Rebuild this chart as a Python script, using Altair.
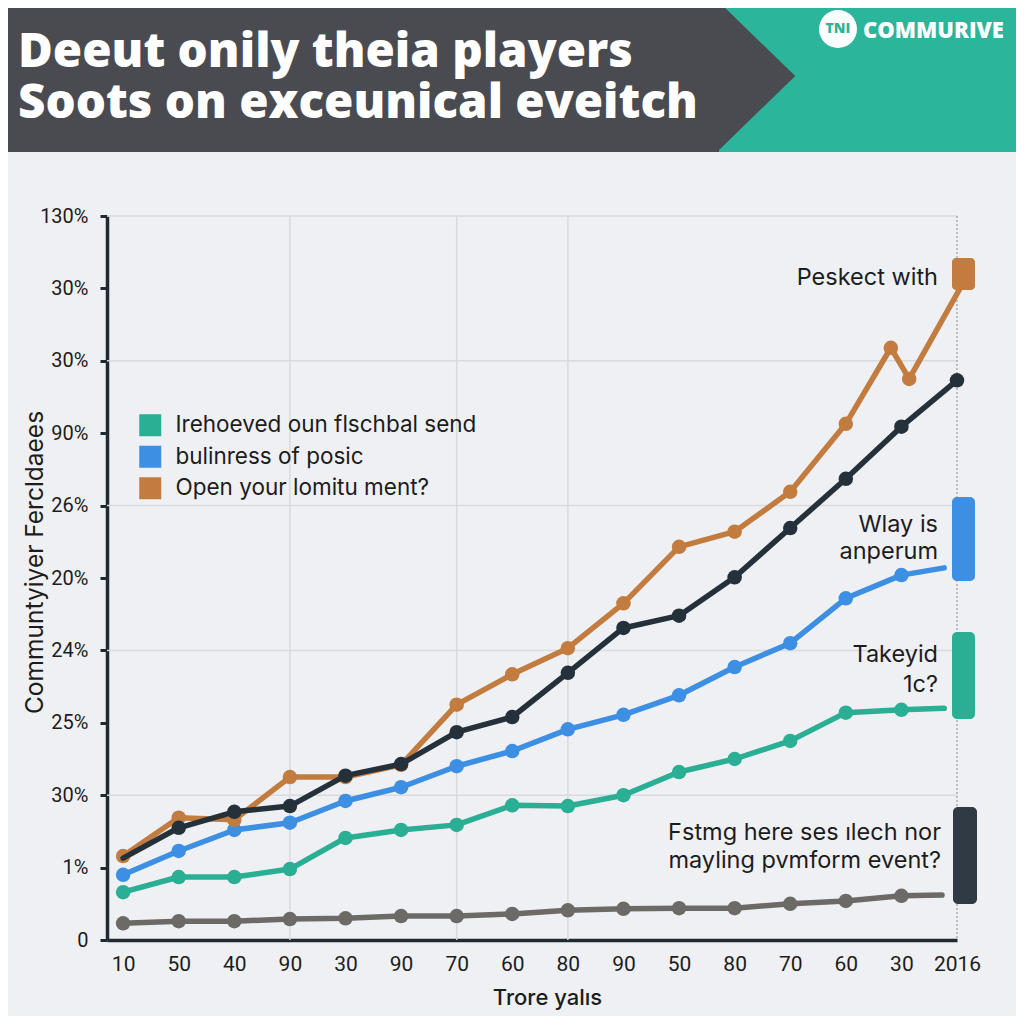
import json
import altair as alt
import pandas as pd

# ---------------- text ----------------
TITLE_LINES = ["Deeut onily theia players", "Soots on exceunical eveitch"]
BRAND_BADGE = "TNI"
BRAND_NAME = "COMMURIVE"
X_TITLE = "Trore yalıs"
Y_TITLE = "Communtyiyer  Fercldaees"
X_LABELS = ["10", "50", "40", "90", "30", "90", "70", "60", "80", "90",
            "50", "80", "70", "60", "30", "2016"]
Y_LABELS = ["0", "1%", "30%", "25%", "24%", "20%", "26%", "90%", "30%", "30%", "130%"]

SERIES = ["Irehoeved oun flschbal send", "bulinress of posic", "Open your lomitu ment?",
          "Fstmg here ses ılech nor mayling pvmform event?", "Baseline"]
COLORS = ["#2aae94", "#3d8fe3", "#c27c40", "#24303a", "#6b6a66"]
LEGEND_SERIES = SERIES[:3]

ANNOT_ORANGE = ["Peskect with"]
ANNOT_BLUE = ["Wlay is", "anperum"]
ANNOT_TEAL = ["Takeyid", "1c?"]
ANNOT_DARK = ["Fstmg here ses ılech nor", "mayling pvmform event?"]

# ---------------- series values (x = category index) ----------------
teal_x = [0, 1, 2, 3, 4, 5, 6, 7, 8, 9, 10, 11, 12, 13, 14, 14.77]
teal_y = [0.66, 0.87, 0.87, 0.98, 1.41, 1.52, 1.59, 1.86, 1.85, 2.00, 2.32, 2.50, 2.75, 3.14, 3.18, 3.20]
teal_m = [1] * 15 + [0]

blue_x = [0, 1, 2, 3, 4, 5, 6, 7, 8, 9, 10, 11, 12, 13, 14, 14.77]
blue_y = [0.90, 1.23, 1.52, 1.62, 1.92, 2.11, 2.40, 2.61, 2.91, 3.11, 3.38, 3.77, 4.10, 4.72, 5.04, 5.14]
blue_m = [1] * 15 + [0]

orange_x = [0, 1, 2, 3, 4, 5, 6, 7, 8, 9, 10, 11, 12, 13, 13.81, 14.14, 15.09]
orange_y = [1.16, 1.69, 1.66, 2.25, 2.25, 2.42, 3.25, 3.67, 4.03, 4.65, 5.43, 5.64, 6.19, 7.13, 8.18, 7.75, 9.05]
orange_m = [1] * 16 + [0]

dark_x = [0, 1, 2, 3, 4, 5, 6, 7, 8, 9, 10, 11, 12, 13, 14, 15]
dark_y = [1.13, 1.55, 1.77, 1.85, 2.27, 2.43, 2.87, 3.08, 3.69, 4.31, 4.48, 5.01, 5.69, 6.37, 7.09, 7.73]
dark_m = [0] + [1] * 15

gray_x = [0, 1, 2, 3, 4, 5, 6, 7, 8, 9, 10, 11, 12, 13, 14, 14.73]
gray_y = [0.23, 0.26, 0.26, 0.29, 0.30, 0.33, 0.33, 0.36, 0.41, 0.43, 0.44, 0.44, 0.50, 0.54, 0.61, 0.62]
gray_m = [1] * 15 + [0]

Y_GRID = [2, 4, 6, 8, 10]
X_GRID = [3, 6, 8]
X_END = [15]

# ---------------- table ----------------
def frame(name, xs, ys, ms):
    return pd.DataFrame({"series": name, "x": xs, "y": ys, "m": ms})

# drawing order: back to front
SERIES_DATA = [
    (frame(SERIES[4], gray_x, gray_y, gray_m), COLORS[4]),
    (frame(SERIES[0], teal_x, teal_y, teal_m), COLORS[0]),
    (frame(SERIES[1], blue_x, blue_y, blue_m), COLORS[1]),
    (frame(SERIES[2], orange_x, orange_y, orange_m), COLORS[2]),
    (frame(SERIES[3], dark_x, dark_y, dark_m), COLORS[3]),
]

DARK = "#1f2a33"
TXT = "#1c1c1c"
HEADER_DARK = "#4a4b50"
HEADER_TEAL = "#2bb59b"
BG = "#eff0f3"
FONT = "Roboto"
TFONT = "Inter"
HFONT = "Open Sans"

x_enc = alt.X(
    "x:Q",
    scale=alt.Scale(domain=[-0.29, 15], nice=False, zero=False),
    axis=alt.Axis(
        values=list(range(16)),
        labelExpr=f"{json.dumps(X_LABELS)}[datum.value]",
        title=X_TITLE, ticks=False, tickSize=0, grid=False,
        domainColor=DARK, domainWidth=3.5, labelFlush=False, labelOverlap=False,
        labelFont=FONT, labelFontSize=21, labelColor=TXT, labelPadding=13,
        titleFont=TFONT, titleFontSize=22, titleFontWeight=500, titleColor=TXT,
        titleX=440, titleY=64, titleAlign="center", titleBaseline="alphabetic",
    ),
)
y_enc = alt.Y(
    "y:Q",
    scale=alt.Scale(domain=[0, 10], nice=False, zero=False),
    axis=alt.Axis(
        values=list(range(11)),
        labelExpr=f"{json.dumps(Y_LABELS)}[datum.value]",
        title=Y_TITLE, grid=False, labelFlush=False, labelOverlap=False,
        domainColor=DARK, domainWidth=3.5, tickColor=DARK, tickWidth=3, tickSize=7,
        labelFont=FONT, labelFontSize=20, labelColor=TXT, labelPadding=12,
        titleFont=TFONT, titleFontSize=24.5, titleFontWeight=400, titleColor=TXT,
        titleAngle=270, titleX=-72, titleY=346, titleAlign="center", titleBaseline="middle",
    ),
)
col_scale = alt.Scale(domain=SERIES, range=COLORS)
legend = alt.Legend(
    values=LEGEND_SERIES, title=None, orient="none", legendX=32, legendY=198,
    symbolType="square", symbolSize=484, symbolStrokeWidth=0, symbolOpacity=1,
    labelFont=TFONT, labelFontSize=22.5, labelColor=TXT, labelOffset=14,
    rowPadding=8.5, padding=0, labelLimit=400,
)

ONE = alt.Data(values=[{}])

def rect(x1, x2, y1, y2, color, r=0):
    return alt.Chart(ONE).mark_rect(color=color, cornerRadius=r).encode(
        x=alt.value(x1), x2=alt.value(x2), y=alt.value(y1), y2=alt.value(y2))

def text(lines, x, y, size, color=TXT, align="right", weight=400, lh=28, font=TFONT):
    t = lines if len(lines) > 1 else lines[0]
    return alt.Chart(ONE).mark_text(
        align=align, baseline="alphabetic", font=font, fontSize=size,
        fontWeight=weight, color=color, lineHeight=lh,
    ).encode(x=alt.value(x), y=alt.value(y), text=alt.value(t))

layers = []

# grid
layers.append(alt.Chart(pd.DataFrame({"y": Y_GRID})).mark_rule(color="#d9dade", strokeWidth=1.5).encode(y=y_enc))
layers.append(alt.Chart(pd.DataFrame({"x": X_GRID})).mark_rule(color="#d9dade", strokeWidth=1.5).encode(x=x_enc))
layers.append(alt.Chart(pd.DataFrame({"x": X_END})).mark_rule(color="#9c9c9c", strokeWidth=1.2, strokeDash=[2, 2]).encode(x=x_enc))

# series
for d, c in SERIES_DATA:
    layers.append(
        alt.Chart(d).mark_line(color=c, strokeWidth=5.5, strokeCap="round", strokeJoin="round").encode(
            x=x_enc, y=y_enc, order="x:Q")
    )
    layers.append(
        alt.Chart(d[d["m"] == 1]).mark_point(filled=True, size=210, opacity=1, strokeWidth=0).encode(
            x=x_enc, y=y_enc,
            fill=alt.Fill("series:N", scale=col_scale, legend=legend))
    )

# badges on the right
layers += [
    rect(845, 868, 42, 74, COLORS[2], 4),
    rect(845, 868, 281, 365, COLORS[1], 5),
    rect(845, 868, 416, 503, COLORS[0], 5),
    rect(846, 870, 591, 688, "#2f3a44", 5),
]

# annotations
layers += [
    text(ANNOT_ORANGE, 831, 69, 23.5),
    text(ANNOT_BLUE, 831, 316, 23.5, lh=27),
    text(ANNOT_TEAL, 831, 446, 23.5, lh=30),
    text(ANNOT_DARK, 834, 624, 23.5, lh=28),
]

# header
layers += [
    rect(580, 909, -208, -64, HEADER_TEAL),
    rect(-99, 612, -208, -64, HEADER_DARK),
    alt.Chart(ONE).mark_point(shape="M0,-1L1.03,0L0,1Z", size=23104, filled=True,
                              fill=HEADER_DARK, opacity=1, strokeWidth=0).encode(
        x=alt.value(610), y=alt.value(-140)),
    text(TITLE_LINES, -89, -149, 47.5, color="white", align="left", weight=800, font=HFONT, lh=51),
    alt.Chart(ONE).mark_point(shape="circle", size=1444, filled=True, fill="white",
                              opacity=1, strokeWidth=0).encode(x=alt.value(731), y=alt.value(-187)),
    alt.Chart(ONE).mark_text(align="center", baseline="middle", font=HFONT, fontSize=14,
                             fontWeight=800, color=HEADER_TEAL).encode(
        x=alt.value(731), y=alt.value(-187), text=alt.value(BRAND_BADGE)),
    text([BRAND_NAME], 756, -178, 22, color="white", align="left", weight=800, font=HFONT),
]

chart = alt.layer(*layers).properties(
    width=850, height=724,
    autosize=alt.AutoSizeParams(type="none"),
    padding={"left": 99, "top": 208, "right": 59, "bottom": 76},
    background=BG,
).configure_view(stroke=None)

chart.save("out.html", embed_options={"renderer": "svg", "actions": False})
